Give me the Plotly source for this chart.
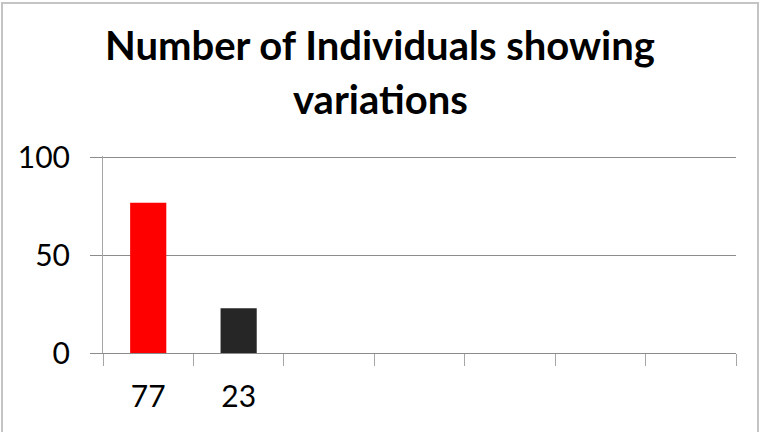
import plotly.graph_objects as go

# ---- data ----
categories = ["77", "23", " ", "  ", "   ", "    ", "     "]
values = [77, 23, None, None, None, None, None]
bar_colors = ["#FF0000", "#262626", "#262626", "#262626", "#262626", "#262626", "#262626"]
y_ticks = [0, 50, 100]
title_lines = ["Number of Individuals showing", "variations"]

# ---- layout geometry (pixels) ----
W, H = 776, 432
PL, PR, PT, PB = 103, 736, 156, 353   # plot area edges (y range 0..101)
FONT = "Lato"
TITLE_SIZE = 40

fig = go.Figure(
    go.Bar(
        x=categories,
        y=values,
        marker=dict(color=bar_colors, line=dict(width=0)),
        hoverinfo="x+y",
    )
)

pw, ph = PR - PL, PB - PT


def px_x(p):
    return (p - PL) / pw


def px_y(p):
    return (PB - p) / ph


fig.update_layout(
    width=W,
    height=H,
    margin=dict(l=PL, r=W - PR, t=PT, b=H - PB, autoexpand=False),
    paper_bgcolor="white",
    plot_bgcolor="white",
    bargap=0.6,
    showlegend=False,
    font=dict(family=FONT, color="black"),
    xaxis=dict(
        type="category",
        categoryorder="array",
        categoryarray=categories,
        range=[-0.5, len(categories) - 0.5],
        showline=True,
        linecolor="#8c8c8c",
        linewidth=1,
        ticks="outside",
        tickson="boundaries",
        ticklen=12,
        tickcolor="#a6a6a6",
        tickwidth=1,
        showgrid=False,
        ticklabelstandoff=17,
        tickfont=dict(family=FONT, size=30, color="black"),
        fixedrange=True,
    ),
    yaxis=dict(
        range=[0, 101],
        tickvals=y_ticks,
        ticktext=[str(v) for v in y_ticks],
        showline=True,
        linecolor="#a6a6a6",
        linewidth=1,
        ticks="outside",
        ticklen=12,
        tickcolor="#8c8c8c",
        tickwidth=1,
        showgrid=True,
        gridcolor="#8c8c8c",
        gridwidth=1,
        zeroline=False,
        ticklabelstandoff=14,
        tickfont=dict(family=FONT, size=30, color="black"),
        fixedrange=True,
    ),
)

# title, one annotation per line (baselines at ~59px and ~113px)
for line, baseline in zip(title_lines, [59, 113]):
    fig.add_annotation(
        text="<b>" + line + "</b>",
        xref="paper",
        yref="paper",
        x=px_x(380),
        y=px_y(baseline - 0.35 * TITLE_SIZE),
        xanchor="center",
        yanchor="middle",
        showarrow=False,
        font=dict(family=FONT, size=TITLE_SIZE, color="black"),
    )

# outer chart frame
fig.add_shape(
    type="rect",
    xref="paper",
    yref="paper",
    x0=px_x(2),
    x1=px_x(758),
    y0=px_y(H + 10),
    y1=px_y(3),
    line=dict(color="#c4c4c4", width=2),
    fillcolor="rgba(0,0,0,0)",
    layer="below",
)

fig.write_html("out.html", config={"displayModeBar": False})
